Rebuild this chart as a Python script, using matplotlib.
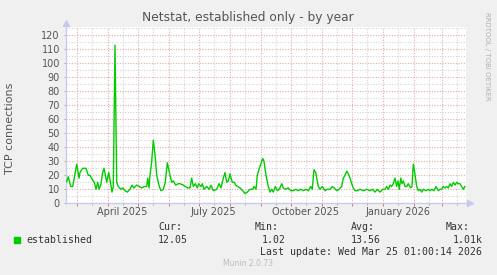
import matplotlib
matplotlib.use("Agg")
import matplotlib.pyplot as plt
import matplotlib.dates as mdates
from matplotlib.ticker import FuncFormatter, MultipleLocator
from datetime import datetime, timedelta

# ---------------- data ----------------
start = datetime(2025, 2, 18)
end = datetime(2026, 3, 25)

days = [1.2, 2.8, 5.2, 7.2, 11.2, 13.5, 14.5, 17.2, 20.5, 22.8, 24.5, 26.8, 28.8, 30.5,
        32.2, 33.5, 35.2, 37.2, 38.5, 40.5, 41.2, 43.2, 44.5, 46.5, 47.8, 49.5, 51.2,
        52.8, 55.2, 57.2, 59.5, 61.8, 64.5, 66.5, 68.5, 71.2, 73.8, 76.2, 78.8, 81.2,
        82.2, 83.5, 84.5, 86.2, 87.8, 89.5, 91.2, 93.8, 95.5, 97.8, 99.8, 101.8, 104.5,
        106.2, 107.8, 110.2, 112.8, 114.5, 117.8, 119.8, 122.2, 124.5, 126.2, 127.8,
        129.8, 131.8, 133.2, 135.5, 136.8, 138.5, 141.2, 143.8, 145.5, 147.8, 151.2,
        153.5, 155.5, 157.8, 159.5, 161.2, 162.8, 164.5, 166.8, 168.8, 170.2, 172.2,
        174.5, 177.2, 179.5, 181.8, 184.5, 187.2, 188.5, 190.5, 191.8, 193.8, 197.2,
        198.5, 200.5, 202.8, 204.5, 206.2, 207.8, 209.8, 211.8, 213.8, 216.2, 217.8,
        220.5, 222.8, 225.2, 227.8, 230.5, 232.8, 235.2, 237.8, 240.5, 242.8, 245.2,
        246.8, 248.5, 250.2, 252.8, 254.5, 256.8, 259.5, 261.8, 264.5, 266.8, 268.8,
        271.2, 273.5, 276.2, 277.8, 279.5, 281.2, 282.8, 284.5, 286.2, 287.8, 289.5,
        291.8, 294.5, 297.8, 301.2, 304.5, 307.2, 309.5, 311.8, 314.5, 317.2, 319.5,
        321.2, 322.8, 324.5, 326.2, 327.8, 329.5, 331.2, 332.5, 333.8, 335.2, 336.5,
        337.8, 339.5, 341.2, 342.8, 345.2, 346.5, 347.8, 349.2, 351.2, 352.8, 354.5,
        356.2, 357.8, 360.5, 362.8, 364.5, 366.2, 368.5, 370.5, 372.8, 374.5, 376.2,
        377.8, 379.5, 381.2, 382.8, 384.5, 386.2, 387.8, 389.5, 391.2, 392.8, 394.5,
        396.2, 397.8, 399.5]

established = [15.5, 19, 12, 12, 28, 18, 22, 25, 25, 20, 20, 17, 15, 10,
               15, 10, 13, 22, 25, 18, 15, 22, 17, 8, 12, 113, 15,
               12, 10, 11, 9, 8, 10, 13, 11, 13, 12, 11, 12, 12,
               18, 11, 20, 30, 45, 35, 20, 12, 9, 10, 15, 29, 20,
               15, 16, 13, 14, 14, 13, 12, 11, 11, 18, 12,
               14, 11, 14, 12, 14, 10, 12, 10, 13, 9, 10,
               14, 11, 18, 22, 15, 16, 21, 15, 15, 13, 12,
               11, 9, 7, 8, 10, 10, 12, 10, 20, 25, 32,
               30, 20, 12, 8, 10, 8, 12, 9, 10, 14, 11,
               10, 11, 9, 9, 10, 9, 10, 9, 10, 9, 12,
               10, 24, 22, 12, 10, 12, 9, 10, 10, 12, 11,
               9, 10, 12, 18, 20, 23, 21, 18, 14, 11, 9,
               9, 10, 9, 10, 9, 10, 8, 10, 8, 10, 10,
               12, 10, 13, 12, 14, 18, 12, 16, 10, 18, 14,
               16, 12, 12, 14, 11, 12, 28, 22, 12, 9, 10,
               8, 10, 9, 10, 9, 10, 9, 12, 9, 10, 10,
               12, 11, 12, 11, 14, 12, 15, 13, 15, 14, 14,
               12, 10, 12]

y_ticks = list(range(0, 121, 10))
x_label_months = {4: "April 2025", 7: "July 2025", 10: "October 2025", 1: "January 2026"}

title = "Netstat, established only - by year"
y_title = "TCP connections"
legend_name = "established"
stats_labels = ["Cur:", "Min:", "Avg:", "Max:"]
stats_values = ["12.05", "1.02", "13.56", "1.01k"]
last_update = "Last update: Wed Mar 25 01:00:14 2026"

# ---------------- figure ----------------
W, H = 497, 275
fig = plt.figure(figsize=(W / 100, H / 100), dpi=100, facecolor="#F0F0F0")
L, R, T, B = 65.5, 465.5, 27, 203.3
ax = fig.add_axes([L / W, 1 - B / H, (R - L) / W, (B - T) / H])
ax.set_facecolor("white")

dates = [start + timedelta(days=d) for d in days]
ax.plot(dates, established, color="#00CC00", lw=1.0, zorder=3, clip_on=True)
ax.set_xlim(start, end)
ax.set_ylim(0, 126)

# x ticks: months major (red grid), mid-months minor (gray grid) with labels
ax.xaxis.set_major_locator(mdates.MonthLocator(bymonthday=1))
ax.xaxis.set_minor_locator(mdates.MonthLocator(bymonthday=16))
ax.xaxis.set_major_formatter(FuncFormatter(lambda v, p: ""))


def minor_fmt(v, p):
    d = mdates.num2date(v)
    return x_label_months.get(d.month, "")


ax.xaxis.set_minor_formatter(FuncFormatter(minor_fmt))
ax.set_yticks(y_ticks)
ax.yaxis.set_minor_locator(MultipleLocator(5))

major_c = "#E9A9A9"
minor_c = "#D4D4D4"
dots = (0, (1, 1.4))
ax.grid(which="major", color=major_c, linestyle=dots, lw=0.8, zorder=1)
ax.grid(which="minor", color=minor_c, linestyle=dots, lw=0.8, zorder=1)
ax.set_axisbelow(True)

ax.tick_params(axis="x", which="major", length=2.2, width=0.7, color="#E07070", pad=1)
ax.tick_params(axis="x", which="minor", length=1.5, width=0.7, color="#AAAAAA",
               labelsize=7, labelcolor="#555555", pad=1.5)
ax.tick_params(axis="y", which="major", length=1.8, width=0.7, color="#AAAAAA",
               labelsize=7, labelcolor="#555555", pad=2.2)
ax.tick_params(axis="y", which="minor", length=0)

for s in ["top", "right"]:
    ax.spines[s].set_visible(False)
for s in ["left", "bottom"]:
    ax.spines[s].set_color("#C6CAEE")
    ax.spines[s].set_linewidth(0.9)

# overlay for decorations in pixel coordinates
ov = fig.add_axes([0, 0, 1, 1], facecolor="none")
ov.set_xlim(0, W)
ov.set_ylim(H, 0)
ov.axis("off")
ov.plot([L], [T - 4], marker="^", ms=5, color="#C6CAEE", clip_on=False)
ov.plot([R + 4.5], [B], marker=">", ms=5, color="#C6CAEE", clip_on=False)

ov.text(248, 18, title, ha="center", va="center", fontsize=8.8, color="#555555")
ov.text(10, 128, y_title, ha="center", va="center", rotation=90, fontsize=8,
        color="#555555")
ov.text(487, 12, "RRDTOOL / TOBI OETIKER", ha="center", va="top", rotation=270,
        fontsize=5, color="#B0B0B0")

mono = "DejaVu Sans Mono"
ov.add_patch(plt.Rectangle((14, 237), 6, 6, color="#00CC00"))
ov.text(26, 240, legend_name, ha="left", va="center", family=mono, fontsize=7.1,
        color="#333333")
lab_x = [158, 255, 351, 470]
val_x = [158, 261.7, 351, 482.5]
for i, (lb, vl) in enumerate(zip(stats_labels, stats_values)):
    ha = "right" if i == 3 else "left"
    ov.text(lab_x[i], 227.5, lb, ha=ha, va="center", family=mono, fontsize=7.1,
            color="#333333")
    ov.text(val_x[i], 240, vl, ha=ha, va="center", family=mono, fontsize=7.1,
            color="#333333")
ov.text(482.5, 252, last_update, ha="right", va="center", family=mono, fontsize=7.1,
        color="#333333")
ov.text(248, 263.5, "Munin 2.0.73", ha="center", va="center", fontsize=5.5,
        color="#BBBBBB")

fig.savefig("out.png", dpi=100, facecolor=fig.get_facecolor())
